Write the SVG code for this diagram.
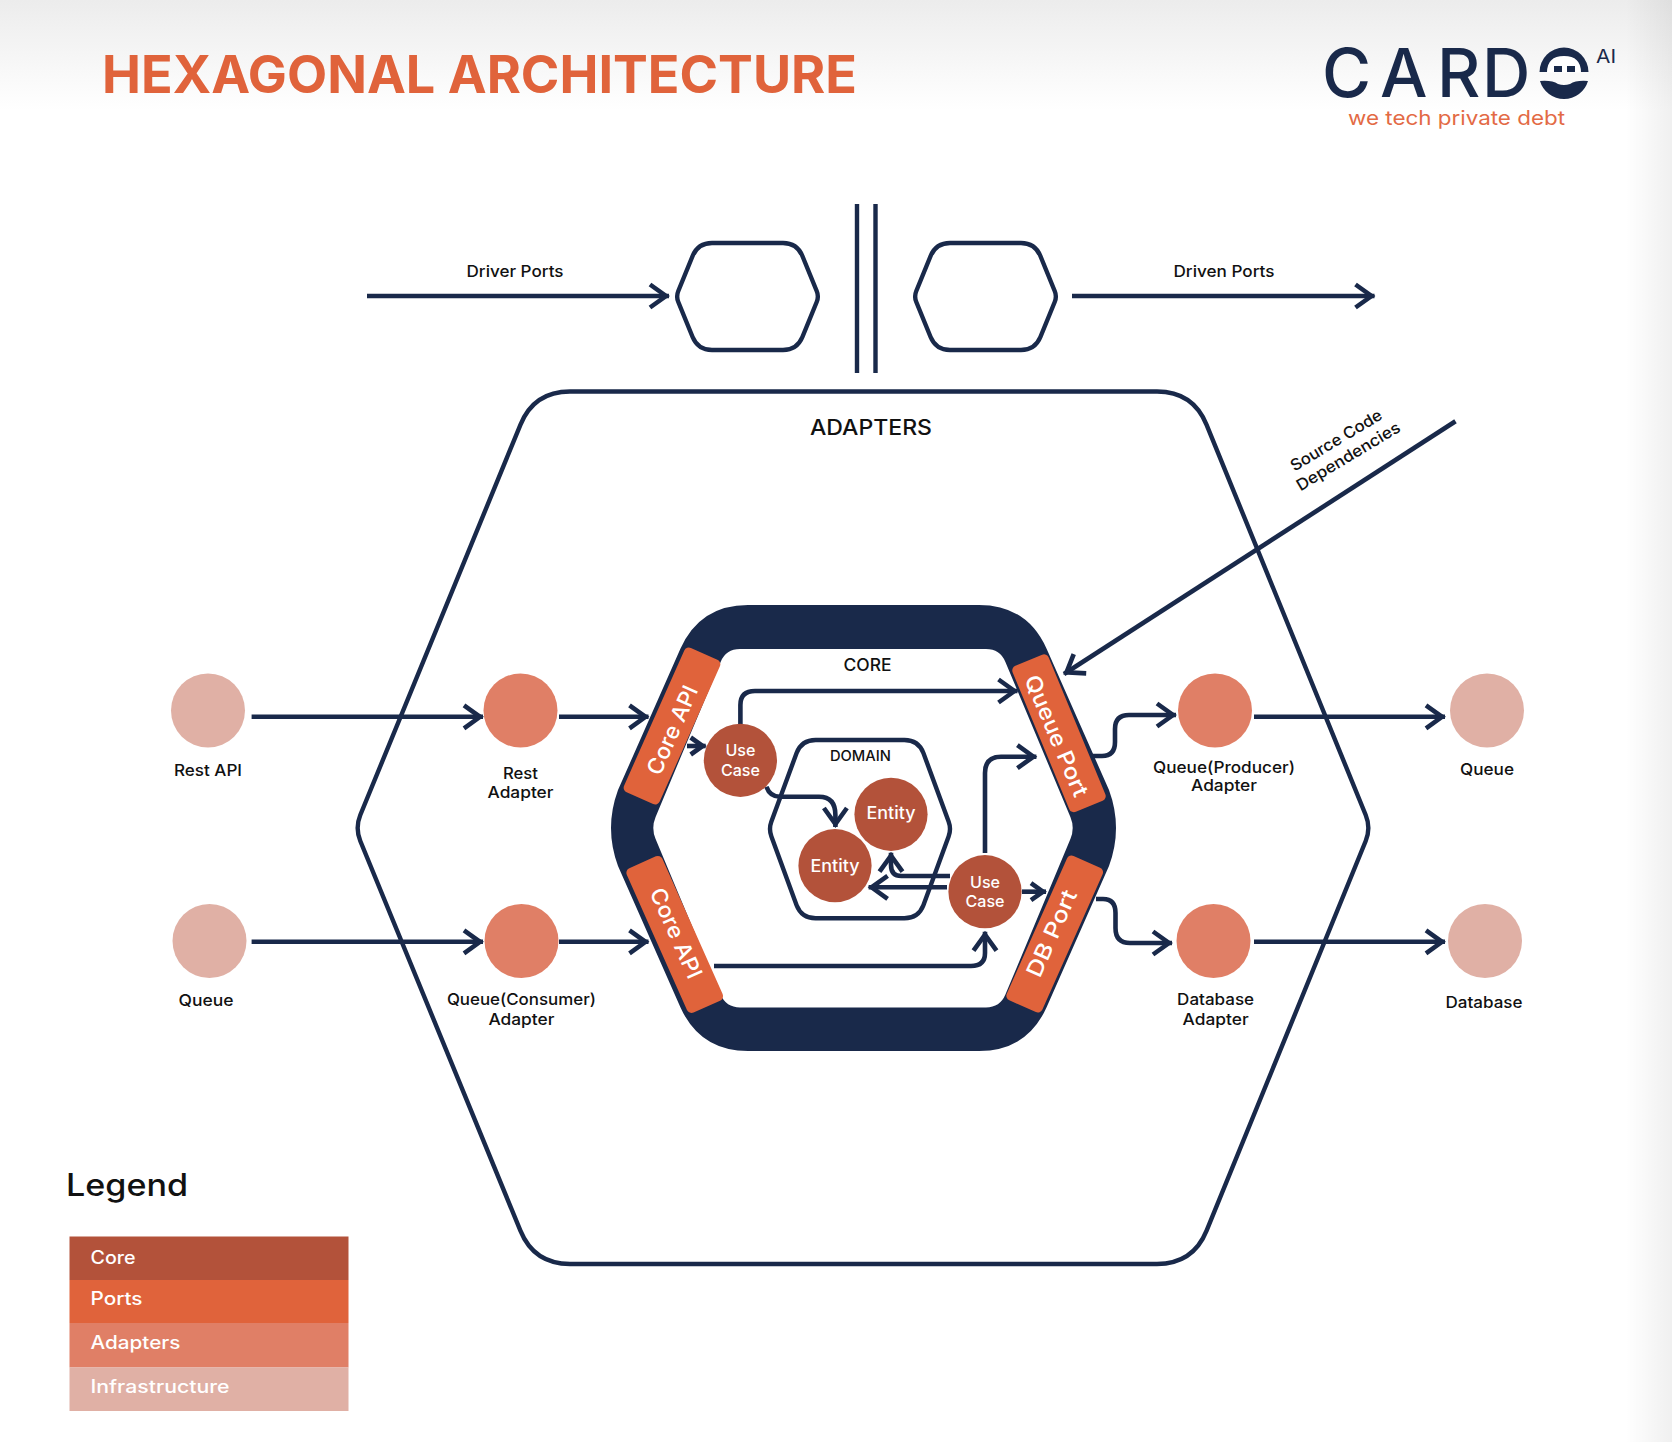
<svg xmlns="http://www.w3.org/2000/svg" xmlns:xlink="http://www.w3.org/1999/xlink" width="1672" height="1442" viewBox="0 0 1672 1442">
<style>
text{font-family:"Inter","Open Sans","Liberation Sans",sans-serif;fill:#111;font-weight:500}
.lb{font-size:16px;text-anchor:middle}
.wt{fill:#fff;text-anchor:middle}
.port{fill:#e0633b}
.ptx{font-size:22px;fill:#fff;text-anchor:middle}
.core{fill:#b3523a}.adp{fill:#e07f66}.inf{fill:#e0b0a5}
.ln{fill:none;stroke:#19294a;stroke-width:4.6;marker-end:url(#h)}
.sm{marker-end:url(#s)}
.hx{fill:none;stroke:#19294a;stroke-width:4.4}
.lg{font-size:18px;fill:#fff}
</style>
<defs>
<linearGradient id="tg" x1="0" y1="0" x2="0" y2="1"><stop offset="0" stop-color="#ececec"/><stop offset="1" stop-color="#fff"/></linearGradient>
<linearGradient id="rg" x1="0" y1="0" x2="1" y2="0"><stop offset="0" stop-color="#000" stop-opacity="0"/><stop offset="1" stop-color="#000" stop-opacity="0.06"/></linearGradient>
<marker id="h" markerUnits="userSpaceOnUse" markerWidth="40" markerHeight="40" viewBox="-2 -20 40 40" refX="22" refY="0" orient="auto" overflow="visible"><path d="M3,-11.5 L19,0 L3,11.5" fill="none" stroke="#19294a" stroke-width="4.6"/></marker>
<marker id="s" markerUnits="userSpaceOnUse" markerWidth="40" markerHeight="40" viewBox="-2 -20 40 40" refX="18" refY="0" orient="auto" overflow="visible"><path d="M3,-8.5 L15,0 L3,8.5" fill="none" stroke="#19294a" stroke-width="4.6"/></marker>
<path id="sh" d="M678.3 291 L692.6 256 Q698 243 712 243 L783 243 Q797 243 802.4 256 L816.7 291 Q819 296.5 816.7 302 L802.4 337 Q797 350 783 350 L712 350 Q698 350 692.6 337 L678.3 302 Q676 296.5 678.3 291 Z"/>
</defs>
<rect width="1672" height="1442" fill="#fff"/>
<rect width="1672" height="110" fill="url(#tg)"/>
<rect x="1625" width="47" height="1442" fill="url(#rg)"/>

<text x="102" y="93" font-size="52" style="fill:#e0633b;font-weight:700" textLength="755" lengthAdjust="spacingAndGlyphs">HEXAGONAL ARCHITECTURE</text>

<g id="logo">
<text x="1322 1380 1437 1482" y="97" font-size="67" style="fill:#19294a;font-weight:500">CARD</text>
<path d="M1539.5 72 A24.5 24.5 0 0 1 1588.5 72 Z" fill="#19294a"/>
<path d="M1547 72.5 Q1547 56 1564 56 Q1581 56 1581 72.5 Z" fill="#fff"/>
<rect x="1554" y="66" width="8" height="6" fill="#19294a"/>
<rect x="1567" y="66" width="8" height="6" fill="#19294a"/>
<path d="M1540 81 Q1552 80 1558 84 Q1564 86 1570 84 Q1576 80 1588 81 A25 25 0 0 1 1540 81 Z" fill="#19294a"/>
<text x="1596" y="63" font-size="18" style="fill:#19294a;font-weight:400" textLength="20" lengthAdjust="spacingAndGlyphs">AI</text>
<text x="1348" y="125" font-size="20" style="fill:#e36a45;font-weight:400" textLength="217" lengthAdjust="spacingAndGlyphs">we tech private debt</text>
</g>

<g id="driver-hex"><use xlink:href="#sh" href="#sh" class="hx"/></g>
<g id="driven-hex"><use xlink:href="#sh" href="#sh" class="hx" transform="translate(238 0)"/></g>
<g id="boundary"><path d="M857 204V373M875.5 204V373" class="hx"/></g>

<g id="adapters-hex">
<path class="hx" d="M360.3 815 L520.4 424.8 Q534 391.5 570 391.5 L1157 391.5 Q1193 391.5 1206.6 424.8 L1365.7 815 Q1371 828 1365.7 841 L1206.6 1230.7 Q1193 1264 1157 1264 L570 1264 Q534 1264 520.4 1230.7 L360.3 841 Q355 828 360.3 815 Z"/>
<text x="871" y="435" font-size="21" text-anchor="middle" textLength="122" lengthAdjust="spacingAndGlyphs">ADAPTERS</text>
</g>

<g id="core-hex">
<path fill="#19294a" fill-rule="evenodd" d="M618 790 L680.4 648.8 Q700 605 748 605 L979 605 Q1027 605 1046.6 648.8 L1109 790 Q1123 828 1109 866 L1046.6 1007.2 Q1027 1051 979 1051 L748 1051 Q700 1051 680.4 1007.2 L618 866 Q604 828 618 790 Z M655.6 817 L720.6 661.9 Q726 649 740 649 L986 649 Q1000 649 1005.4 661.9 L1070.4 817 Q1075 828 1070.4 839 L1005.4 994.6 Q1000 1007.5 986 1007.5 L740 1007.5 Q726 1007.5 720.6 994.6 L655.6 839 Q651 828 655.6 817 Z"/>
<text x="867.5" y="671" font-size="17" text-anchor="middle" textLength="48" lengthAdjust="spacingAndGlyphs">CORE</text>
</g>

<g id="domain-hex">
<path class="hx" d="M771.4 821.5 L796.6 753 Q801.6 740 815.6 740 L904.4 740 Q918.4 740 923.4 753 L948.6 821.5 Q951.4 829 948.6 836.5 L923.4 905.3 Q918.4 918.3 904.4 918.3 L815.6 918.3 Q801.6 918.3 796.6 905.3 L771.4 836.5 Q768.6 829 771.4 821.5 Z"/>
<text x="860.4" y="761" font-size="14" text-anchor="middle" textLength="61" lengthAdjust="spacingAndGlyphs">DOMAIN</text>
</g>

<g id="connectors">
<path class="ln" d="M367 296H669"/>
<path class="ln" d="M1072 296H1374.5"/>
<path class="ln" d="M251.6 716.8H483"/>
<path class="ln" d="M559 716.8H648.5"/>
<path class="ln" d="M251.6 941.8H483"/>
<path class="ln" d="M559 941.8H648.5"/>
<path class="ln" d="M1254 716.8H1445"/>
<path class="ln" d="M1254 941.8H1445"/>
<path class="ln" d="M1092 756 L1102 756 Q1115 756 1115 742 L1115 729 Q1115 715 1129 715 L1176 715"/>
<path class="ln" d="M1096 899 L1103 899 Q1115.5 899 1115.5 913 L1115.5 928 Q1115.5 943 1130 943 L1172 943"/>
<path class="ln" d="M1455.5 421.3 L1064 674"/>
<path class="ln" d="M740.4 725 L740.4 705 Q740.4 691 755 691 L1017.5 691"/>
<path class="ln sm" d="M687 746 L705.7 746"/>
<path class="ln" d="M766.4 786.7 Q770 796.7 780 796.7 L819 796.7 Q835.4 796.7 835.4 815 L835.4 827"/>
<path class="ln" d="M985 853 L985 773 Q985 756.7 1001 756.7 L1036.4 756.7"/>
<path class="ln" d="M950 876 L901.4 876 Q891 876 891 865 L891 852.7"/>
<path class="ln" d="M947 887.3 L868.6 887.3"/>
<path class="ln sm" d="M1022 891.7 L1046 891.7"/>
<path class="ln" d="M714 966 L971 966 Q985 966 985 953 L985 931.7"/>
</g>

<g id="port-core-api-1"><rect x="-19.5" y="-79" width="39" height="158" rx="5" class="port" transform="translate(672 726) rotate(24)"/><text class="ptx" transform="translate(672 730) rotate(-66) translate(0 8)" textLength="95" lengthAdjust="spacingAndGlyphs">Core API</text></g>
<g id="port-core-api-2"><rect x="-19.5" y="-79" width="39" height="158" rx="5" class="port" transform="translate(674.7 934.4) rotate(-24)"/><text class="ptx" transform="translate(676.4 933) rotate(66) translate(0 8)" textLength="97" lengthAdjust="spacingAndGlyphs">Core API</text></g>
<g id="port-queue"><rect x="-19.5" y="-79" width="39" height="158" rx="5" class="port" transform="translate(1059 733.3) rotate(-22.5)"/><text class="ptx" transform="translate(1056.8 735.7) rotate(67) translate(0 8)" textLength="130" lengthAdjust="spacingAndGlyphs">Queue Port</text></g>
<g id="port-db"><rect x="-19.5" y="-79" width="39" height="158" rx="5" class="port" transform="translate(1054.7 934) rotate(24)"/><text class="ptx" transform="translate(1051.4 933.3) rotate(-66) translate(0 8)" textLength="93" lengthAdjust="spacingAndGlyphs">DB Port</text></g>

<g id="use-case-1"><circle cx="740.4" cy="760.3" r="36.6" class="core"/><text class="wt" x="740.4" y="756" font-size="16" textLength="30" lengthAdjust="spacingAndGlyphs">Use</text><text class="wt" x="740.4" y="775.7" font-size="16" textLength="39" lengthAdjust="spacingAndGlyphs">Case</text></g>
<g id="use-case-2"><circle cx="985" cy="891.7" r="36.6" class="core"/><text class="wt" x="985" y="887.7" font-size="16" textLength="30" lengthAdjust="spacingAndGlyphs">Use</text><text class="wt" x="985" y="907.3" font-size="16" textLength="39" lengthAdjust="spacingAndGlyphs">Case</text></g>
<g id="entity-1"><circle cx="891" cy="814.3" r="36.6" class="core"/><text class="wt" x="891" y="819.3" font-size="17" textLength="49" lengthAdjust="spacingAndGlyphs">Entity</text></g>
<g id="entity-2"><circle cx="835" cy="865.7" r="36.6" class="core"/><text class="wt" x="835" y="871.7" font-size="17" textLength="49" lengthAdjust="spacingAndGlyphs">Entity</text></g>

<g id="rest-api"><circle cx="208" cy="710.5" r="37" class="inf"/><text class="lb" x="208" y="775.5" textLength="68" lengthAdjust="spacingAndGlyphs">Rest API</text></g>
<g id="queue-in"><circle cx="209.5" cy="941" r="37" class="inf"/><text class="lb" x="206" y="1006" textLength="55" lengthAdjust="spacingAndGlyphs">Queue</text></g>
<g id="queue-out"><circle cx="1487" cy="710.5" r="37" class="inf"/><text class="lb" x="1487" y="774.5" textLength="54" lengthAdjust="spacingAndGlyphs">Queue</text></g>
<g id="database"><circle cx="1485" cy="941" r="37" class="inf"/><text class="lb" x="1484" y="1008" textLength="77" lengthAdjust="spacingAndGlyphs">Database</text></g>
<g id="rest-adapter"><circle cx="520.5" cy="710.5" r="37" class="adp"/><text class="lb" x="520.5" y="778.6" textLength="35" lengthAdjust="spacingAndGlyphs">Rest</text><text class="lb" x="520.5" y="798" textLength="66" lengthAdjust="spacingAndGlyphs">Adapter</text></g>
<g id="queue-consumer-adapter"><circle cx="521.5" cy="941" r="37" class="adp"/><text class="lb" x="521.4" y="1004.7" textLength="149" lengthAdjust="spacingAndGlyphs">Queue(Consumer)</text><text class="lb" x="521.4" y="1024.5" textLength="66" lengthAdjust="spacingAndGlyphs">Adapter</text></g>
<g id="queue-producer-adapter"><circle cx="1215" cy="710.5" r="37" class="adp"/><text class="lb" x="1224" y="772.5" textLength="142" lengthAdjust="spacingAndGlyphs">Queue(Producer)</text><text class="lb" x="1224" y="791" textLength="66" lengthAdjust="spacingAndGlyphs">Adapter</text></g>
<g id="database-adapter"><circle cx="1213.5" cy="941" r="37" class="adp"/><text class="lb" x="1215.6" y="1004.7" textLength="77" lengthAdjust="spacingAndGlyphs">Database</text><text class="lb" x="1215.6" y="1024.5" textLength="66" lengthAdjust="spacingAndGlyphs">Adapter</text></g>

<g id="labels">
<text class="lb" x="515" y="277" textLength="97" lengthAdjust="spacingAndGlyphs">Driver Ports</text>
<text class="lb" x="1224" y="277" textLength="101" lengthAdjust="spacingAndGlyphs">Driven Ports</text>
<text class="lb" transform="translate(1339 445) rotate(-31)" textLength="104" lengthAdjust="spacingAndGlyphs">Source Code</text>
<text class="lb" transform="translate(1351 461) rotate(-31)" textLength="118" lengthAdjust="spacingAndGlyphs">Dependencies</text>
</g>

<g id="legend">
<text x="66" y="1196" font-size="31" textLength="122" lengthAdjust="spacingAndGlyphs">Legend</text>
<rect x="69.5" y="1236.5" width="279" height="43.5" class="core"/>
<rect x="69.5" y="1280" width="279" height="43" class="port"/>
<rect x="69.5" y="1323" width="279" height="44.5" class="adp"/>
<rect x="69.5" y="1367.5" width="279" height="43.5" class="inf"/>
<text class="lg" x="90.5" y="1264.3" textLength="45" lengthAdjust="spacingAndGlyphs">Core</text>
<text class="lg" x="90.5" y="1305" textLength="52" lengthAdjust="spacingAndGlyphs">Ports</text>
<text class="lg" x="90.5" y="1349" textLength="90" lengthAdjust="spacingAndGlyphs">Adapters</text>
<text class="lg" x="90.5" y="1392.8" textLength="139" lengthAdjust="spacingAndGlyphs">Infrastructure</text>
</g>
</svg>
